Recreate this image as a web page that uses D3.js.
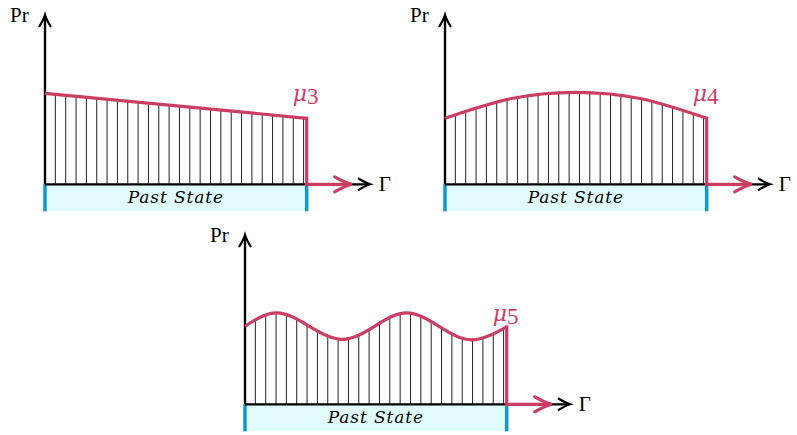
<!DOCTYPE html>
<html>
<head>
<meta charset="utf-8">
<script src="https://cdn.jsdelivr.net/npm/d3@7"></script>
<style>
  body { margin: 0; background: #fff; }
  svg { display: block; }
  text { font-family: "Liberation Serif", "DejaVu Serif", serif; }
  .it { font-family: "DejaVu Serif", "Liberation Serif", serif; font-style: italic; }
</style>
</head>
<body>
<div id="chart"></div>
<script>
// curve heights (0 = baseline, Past State spans x 0..1)
var mu3 = [{x: 0, y: 91}, {x: 1, y: 66}];
var mu4 = [{x: 0, y: 66}, {x: 0.25, y: 85.5}, {x: 0.5, y: 92}, {x: 0.75, y: 85.5}, {x: 1, y: 66}];
var mu5 = [{x: 0, y: 78}, {x: 0.121, y: 91.5}, {x: 0.246, y: 78}, {x: 0.372, y: 65},
           {x: 0.495, y: 78}, {x: 0.617, y: 91.5}, {x: 0.741, y: 78}, {x: 0.866, y: 64.5},
           {x: 1, y: 77.5}];
var labels = ["3", "4", "5"];
var hatchCount = 25;

var red = "#cc3d64", blue = "#1196cf", cyan = "#e0fcfd";

var panels = [
  {ox: 0,   oy: 0,   data: mu3, curve: d3.curveLinear, sub: labels[0]},
  {ox: 400, oy: 0,   data: mu4, curve: d3.curveNatural, sub: labels[1]},
  {ox: 200, oy: 220, data: mu5, curve: d3.curveNatural, sub: labels[2]}
];

var svg = d3.select("#chart").append("svg")
    .attr("width", 797)
    .attr("height", 435);

// open "to" style arrowhead pointing right, tip at (0,0)
function chevron(len, half) {
  return "M" + (-len) + "," + (-half) +
    "Q" + (-len * 0.35) + "," + (-half * 0.2) + " 0,0" +
    "Q" + (-len * 0.35) + "," + (half * 0.2) + " " + (-len) + "," + half;
}

panels.forEach(function(p, i) {
  var x = d3.scaleLinear().domain([0, 1]).range([p.ox + 45, p.ox + 306.7]);
  var y = d3.scaleLinear().domain([0, 100]).range([p.oy + 184.3, p.oy + 84.3]);
  var g = svg.append("g");

  // past state band
  g.append("rect")
    .attr("x", x(0)).attr("y", y(0))
    .attr("width", x(1) - x(0)).attr("height", 27)
    .attr("fill", cyan);
  [0, 1].forEach(function(v) {
    g.append("line")
      .attr("x1", x(v)).attr("x2", x(v))
      .attr("y1", y(0)).attr("y2", y(0) + 27)
      .attr("stroke", blue).attr("stroke-width", 3.5);
  });
  g.append("text")
    .attr("class", "it")
    .attr("x", (x(0) + x(1)) / 2).attr("y", y(0) + 19)
    .attr("text-anchor", "middle")
    .style("font-size", "17px")
    .style("letter-spacing", "0.9px")
    .text("Past State");

  // hatch lines clipped by the area under the curve
  var area = d3.area().curve(p.curve)
    .x(function(d) { return x(d.x); })
    .y0(y(0))
    .y1(function(d) { return y(d.y); });
  svg.append("clipPath").attr("id", "clip" + i)
    .append("path").attr("d", area(p.data));
  g.append("g").attr("clip-path", "url(#clip" + i + ")")
    .selectAll("line")
    .data(d3.range(1, hatchCount + 1).map(function(k) { return k / 25.3; }))
    .enter().append("line")
      .attr("x1", function(d) { return x(d); })
      .attr("x2", function(d) { return x(d); })
      .attr("y1", y(0)).attr("y2", y(100))
      .attr("stroke", "#222").attr("stroke-width", 1);

  // axes
  var axisEnd = x(1) + 63.3;
  g.append("line")
    .attr("x1", x(0)).attr("x2", axisEnd - 1)
    .attr("y1", y(0)).attr("y2", y(0))
    .attr("stroke", "#000").attr("stroke-width", 2.2);
  g.append("path")
    .attr("d", chevron(12, 6))
    .attr("transform", "translate(" + axisEnd + "," + y(0) + ")")
    .attr("fill", "none").attr("stroke", "#000").attr("stroke-width", 2.2);
  g.append("line")
    .attr("x1", x(0)).attr("x2", x(0))
    .attr("y1", y(0)).attr("y2", p.oy + 16)
    .attr("stroke", "#000").attr("stroke-width", 2.4);
  g.append("path")
    .attr("d", chevron(12, 6))
    .attr("transform", "translate(" + x(0) + "," + (p.oy + 15) + ") rotate(-90)")
    .attr("fill", "none").attr("stroke", "#000").attr("stroke-width", 2.2);

  // distribution curve
  var line = d3.line().curve(p.curve)
    .x(function(d) { return x(d.x); })
    .y(function(d) { return y(d.y); });
  g.append("path")
    .attr("d", line(p.data))
    .attr("fill", "none").attr("stroke", red).attr("stroke-width", 3.2);
  var last = p.data[p.data.length - 1];
  var redEnd = x(1) + 45;
  g.append("path")
    .attr("d", "M" + x(1) + "," + (y(last.y) - 1.5) + "V" + y(0) + "H" + (redEnd - 2))
    .attr("fill", "none").attr("stroke", red).attr("stroke-width", 3.2);
  g.append("path")
    .attr("d", chevron(17, 7.5))
    .attr("transform", "translate(" + redEnd + "," + y(0) + ")")
    .attr("fill", "none").attr("stroke", red).attr("stroke-width", 3.2)
    .attr("stroke-linecap", "round");

  // labels
  g.append("text")
    .attr("x", p.ox + 10).attr("y", p.oy + 22)
    .style("font-size", "21px")
    .text("Pr");
  g.append("text")
    .attr("x", x(1) + 72).attr("y", y(0) + 7)
    .style("font-size", "21px")
    .text("Γ");
  var mu = g.append("text")
    .attr("x", x(1) - 14).attr("y", p.oy + 101)
    .attr("fill", red);
  mu.append("tspan").attr("class", "it").style("font-size", "22px").text("μ");
  mu.append("tspan").attr("dy", 3).style("font-size", "23px").text(p.sub);
});
</script>
</body>
</html>
